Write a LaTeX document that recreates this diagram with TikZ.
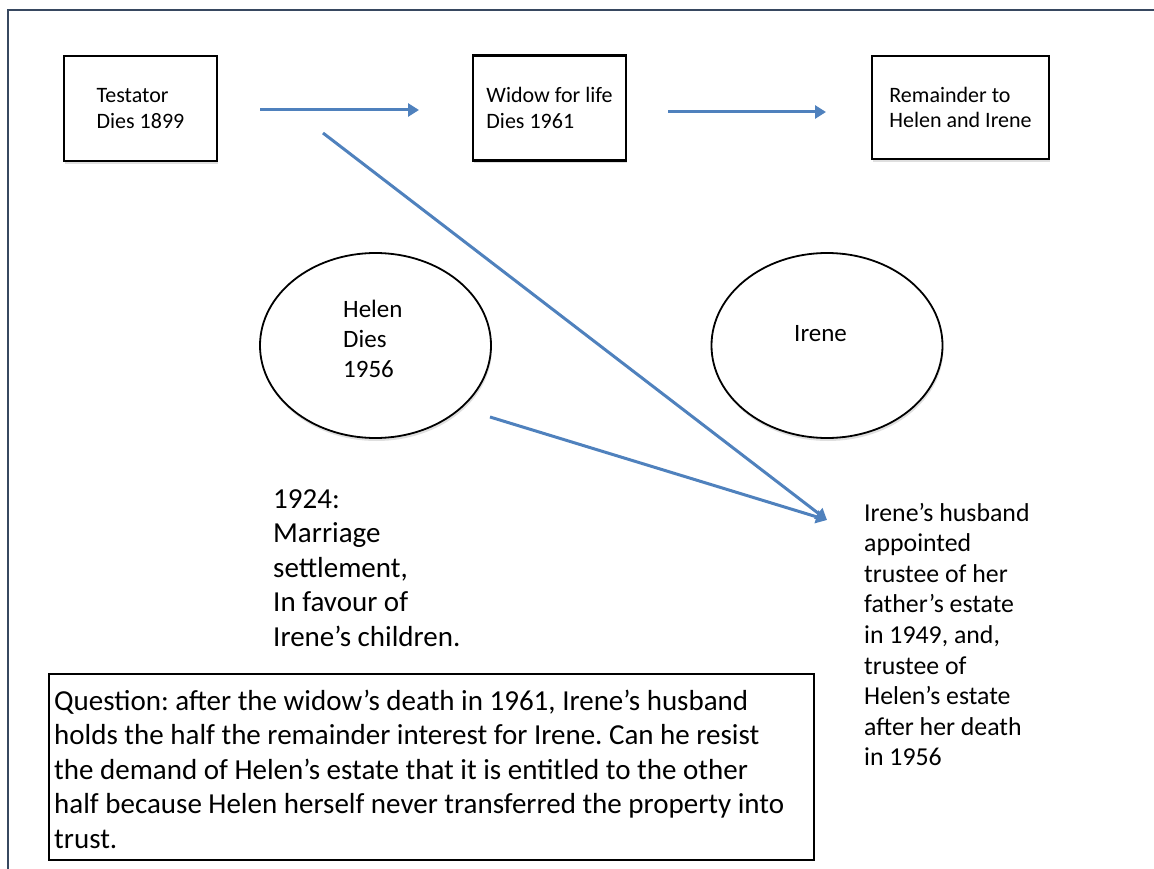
\documentclass[tikz,border=0pt]{standalone}
\usepackage{fontspec}
\setmainfont{Carlito}
\frenchspacing
\usetikzlibrary{arrows.meta,shapes.geometric,shadows}
\definecolor{arrowblue}{RGB}{79,129,189}
\definecolor{framecol}{RGB}{55,72,96}
\begin{document}
\begin{tikzpicture}[x=1pt,y=-1pt,
  softshadow/.style={drop shadow={shadow xshift=1pt,shadow yshift=-3pt,opacity=0.25,fill=gray}},
  eventbox/.style={draw=black,line width=2.2pt,fill=white,softshadow,minimum width=153pt,minimum height=105pt,
    inner sep=0pt,align=left,font=\fontsize{22}{25.5}\selectfont},
  oval/.style={ellipse,draw=black,line width=1.8pt,fill=white,softshadow,minimum width=231pt,minimum height=185pt,inner sep=0pt},
  ovaltext/.style={anchor=west,align=left,inner sep=0pt,font=\fontsize{25}{30}\selectfont},
  note/.style={anchor=west,align=left,inner sep=0pt,font=\fontsize{25.8}{30.6}\selectfont},
  bignote/.style={anchor=west,align=left,inner sep=0pt,font=\fontsize{29}{34.5}\selectfont},
  link/.style={draw=arrowblue,line width=3pt,-{Triangle[length=11pt,width=13pt]}}
]
\useasboundingbox (0,0) rectangle (1154,869);
% outer frame
\draw[framecol,line width=2pt] (8,869) -- (8,10) -- (1154,10);

% top row boxes
\node[eventbox] (testator) at (140.5,108.5) {Testator\\Dies 1899};
\node[eventbox] (widow) at (549.5,108) {Widow for life\\Dies 1961};
\node[eventbox,minimum width=177pt,minimum height=103pt] (remainder) at (960.5,107.5) {Remainder to\\Helen and Irene};

% ovals
\node[oval] (helen) at (375.5,345.5) {};
\node[ovaltext] (helentext) at (343,339) {Helen\\Dies\\1956};
\node[oval] (irene) at (827,345.5) {};
\node[ovaltext] (irenetext) at (794,334) {Irene};

% notes
\node[bignote] (settlement) at (273,568)
  {1924:\\Marriage\\settlement,\\In favour of\\Irene’s children.};
\node[note] (husband) at (864,634.5)
  {Irene’s husband\\appointed\\trustee of her\\father’s estate\\in 1949, and,\\trustee of\\Helen’s estate\\after her death\\in 1956};

% question box
\node[draw=black,line width=2pt,fill=white,anchor=north west,minimum width=765pt,minimum height=186pt,inner sep=0pt]
  (questionbox) at (48,673) {};
\node[bignote] (question) at (54,769)
  {Question: after the widow’s death in 1961, Irene’s husband\\
   holds the half the remainder interest for Irene. Can he resist\\
   the demand of Helen’s estate that it is entitled to the other\\
   half because Helen herself never transferred the property into\\
   trust.};

% connectors
\coordinate (a1s) at (260,110);
\coordinate (a1e) at (419,110);
\coordinate (a2s) at (668,112);
\coordinate (a2e) at (826,112);
\coordinate (d1s) at (323,133);
\coordinate (d2s) at (490,417);
\coordinate (tip) at (827,520);
\draw[link] (a1s) -- (a1e);
\draw[link] (a2s) -- (a2e);
\draw[link] (d1s) -- (tip);
\draw[link] (d2s) -- (tip);
\end{tikzpicture}
\end{document}
